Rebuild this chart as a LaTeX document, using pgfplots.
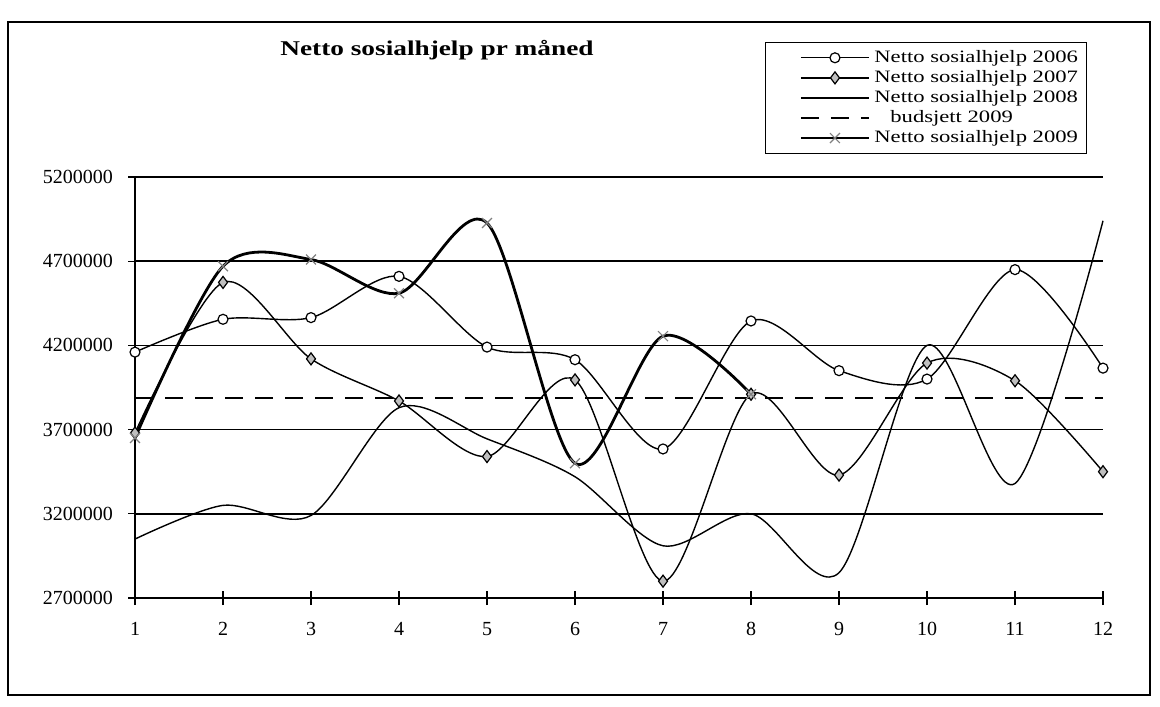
\documentclass[border=0pt]{standalone}
\usepackage{fontspec}
\setmainfont{Liberation Serif}
\newfontfamily\widefont[FakeStretch=1.3]{Liberation Serif}
\usepackage{pgfplots}
\usepackage{pgfplotstable}
\pgfplotsset{compat=1.18}

% maaned, 2006, 2007, 2008
\pgfplotstableread{
m a b c
1  4160000 3680000 3050000
2  4355000 4574000 3250000
3  4365000 4120000 3190000
4  4610000 3870000 3830000
5  4190000 3540000 3645000
6  4115000 3995000 3420000
7  3585000 2800000 3010000
8  4345000 3910000 3200000
9  4050000 3430000 2850000
10 4000000 4095000 4200000
11 4650000 3990000 3380000
12 4065000 3450000 4940000
}\sosial

% 2009 (bare jan-aug)
\pgfplotstableread{
m d
1 3650000
2 4670000
3 4710000
4 4510000
5 4927000
6 3500000
7 4255000
8 3910000
}\sosialNi

\begin{document}
\begin{tikzpicture}
\useasboundingbox (0,0) rectangle (580pt,353pt);
\draw[line width=1pt] (4pt,5.5pt) rectangle (575pt,342pt);
\node[font={\widefont\bfseries\fontsize{10.5}{12}\selectfont}] at (218.5pt,328pt) {Netto sosialhjelp pr måned};

\begin{axis}[
    at={(67.5pt,54pt)}, anchor=south west,
    scale only axis,
    width=484pt, height=210.5pt,
    xmin=1, xmax=12,
    ymin=2700000, ymax=5200000,
    xtick={1,...,12},
    ytick={2700000,3200000,3700000,4200000,4700000,5200000},
    yticklabels={2700000,3200000,3700000,4200000,4700000,5200000},
    scaled y ticks=false,
    axis x line*=bottom, axis y line*=left,
    axis line style={black, line width=0.8pt, -},
    ymajorgrids=true,
    grid style={black, line width=0.7pt},
    tick align=center,
    major tick length=7pt,
    tick style={black, line width=0.6pt},
    ticklabel style={font=\fontsize{10}{11}\selectfont},
    /pgf/number format/assume math mode=true,
    yticklabel style={xshift=-4pt},
    xticklabel style={yshift=-5pt},
    clip=false,
    legend style={
        at={(0.651,1.321)}, anchor=north west,
        draw=black, fill=white,
        font={\widefont\fontsize{8.7}{9}\selectfont},
        row sep=-1.5pt, inner xsep=2pt, inner ysep=2pt,
    },
    legend cell align=left,
    legend image code/.code={
        \path (0pt,0pt);
        \draw[mark repeat=2, mark phase=2, #1] plot coordinates {(15pt,0pt) (32pt,0pt) (49pt,0pt)};
    },
]
\addplot[black, line width=0.7pt, smooth, mark=*, mark size=2.5pt,
    mark options={fill=white, line width=0.6pt}] table[x=m, y=a] {\sosial};
\addlegendentry{Netto sosialhjelp 2006}

\addplot[black, line width=0.7pt, smooth, mark=diamond*, mark size=3pt,
    mark options={fill=gray!50, line width=0.6pt}] table[x=m, y=b] {\sosial};
\addlegendentry{Netto sosialhjelp 2007}

\addplot[black, line width=0.7pt, smooth, no markers] table[x=m, y=c] {\sosial};
\addlegendentry{Netto sosialhjelp 2008}

\addplot[black, line width=0.9pt, dash pattern=on 9pt off 6pt] coordinates {(1,3890000) (12,3890000)};
\addlegendentry{\hspace{8pt}budsjett 2009}

\addplot[black, line width=1.4pt, smooth, mark=x, mark size=3.5pt,
    mark options={black!50, line width=0.6pt}] table[x=m, y=d] {\sosialNi};
\addlegendentry{Netto sosialhjelp 2009}
\end{axis}
\end{tikzpicture}
\end{document}
